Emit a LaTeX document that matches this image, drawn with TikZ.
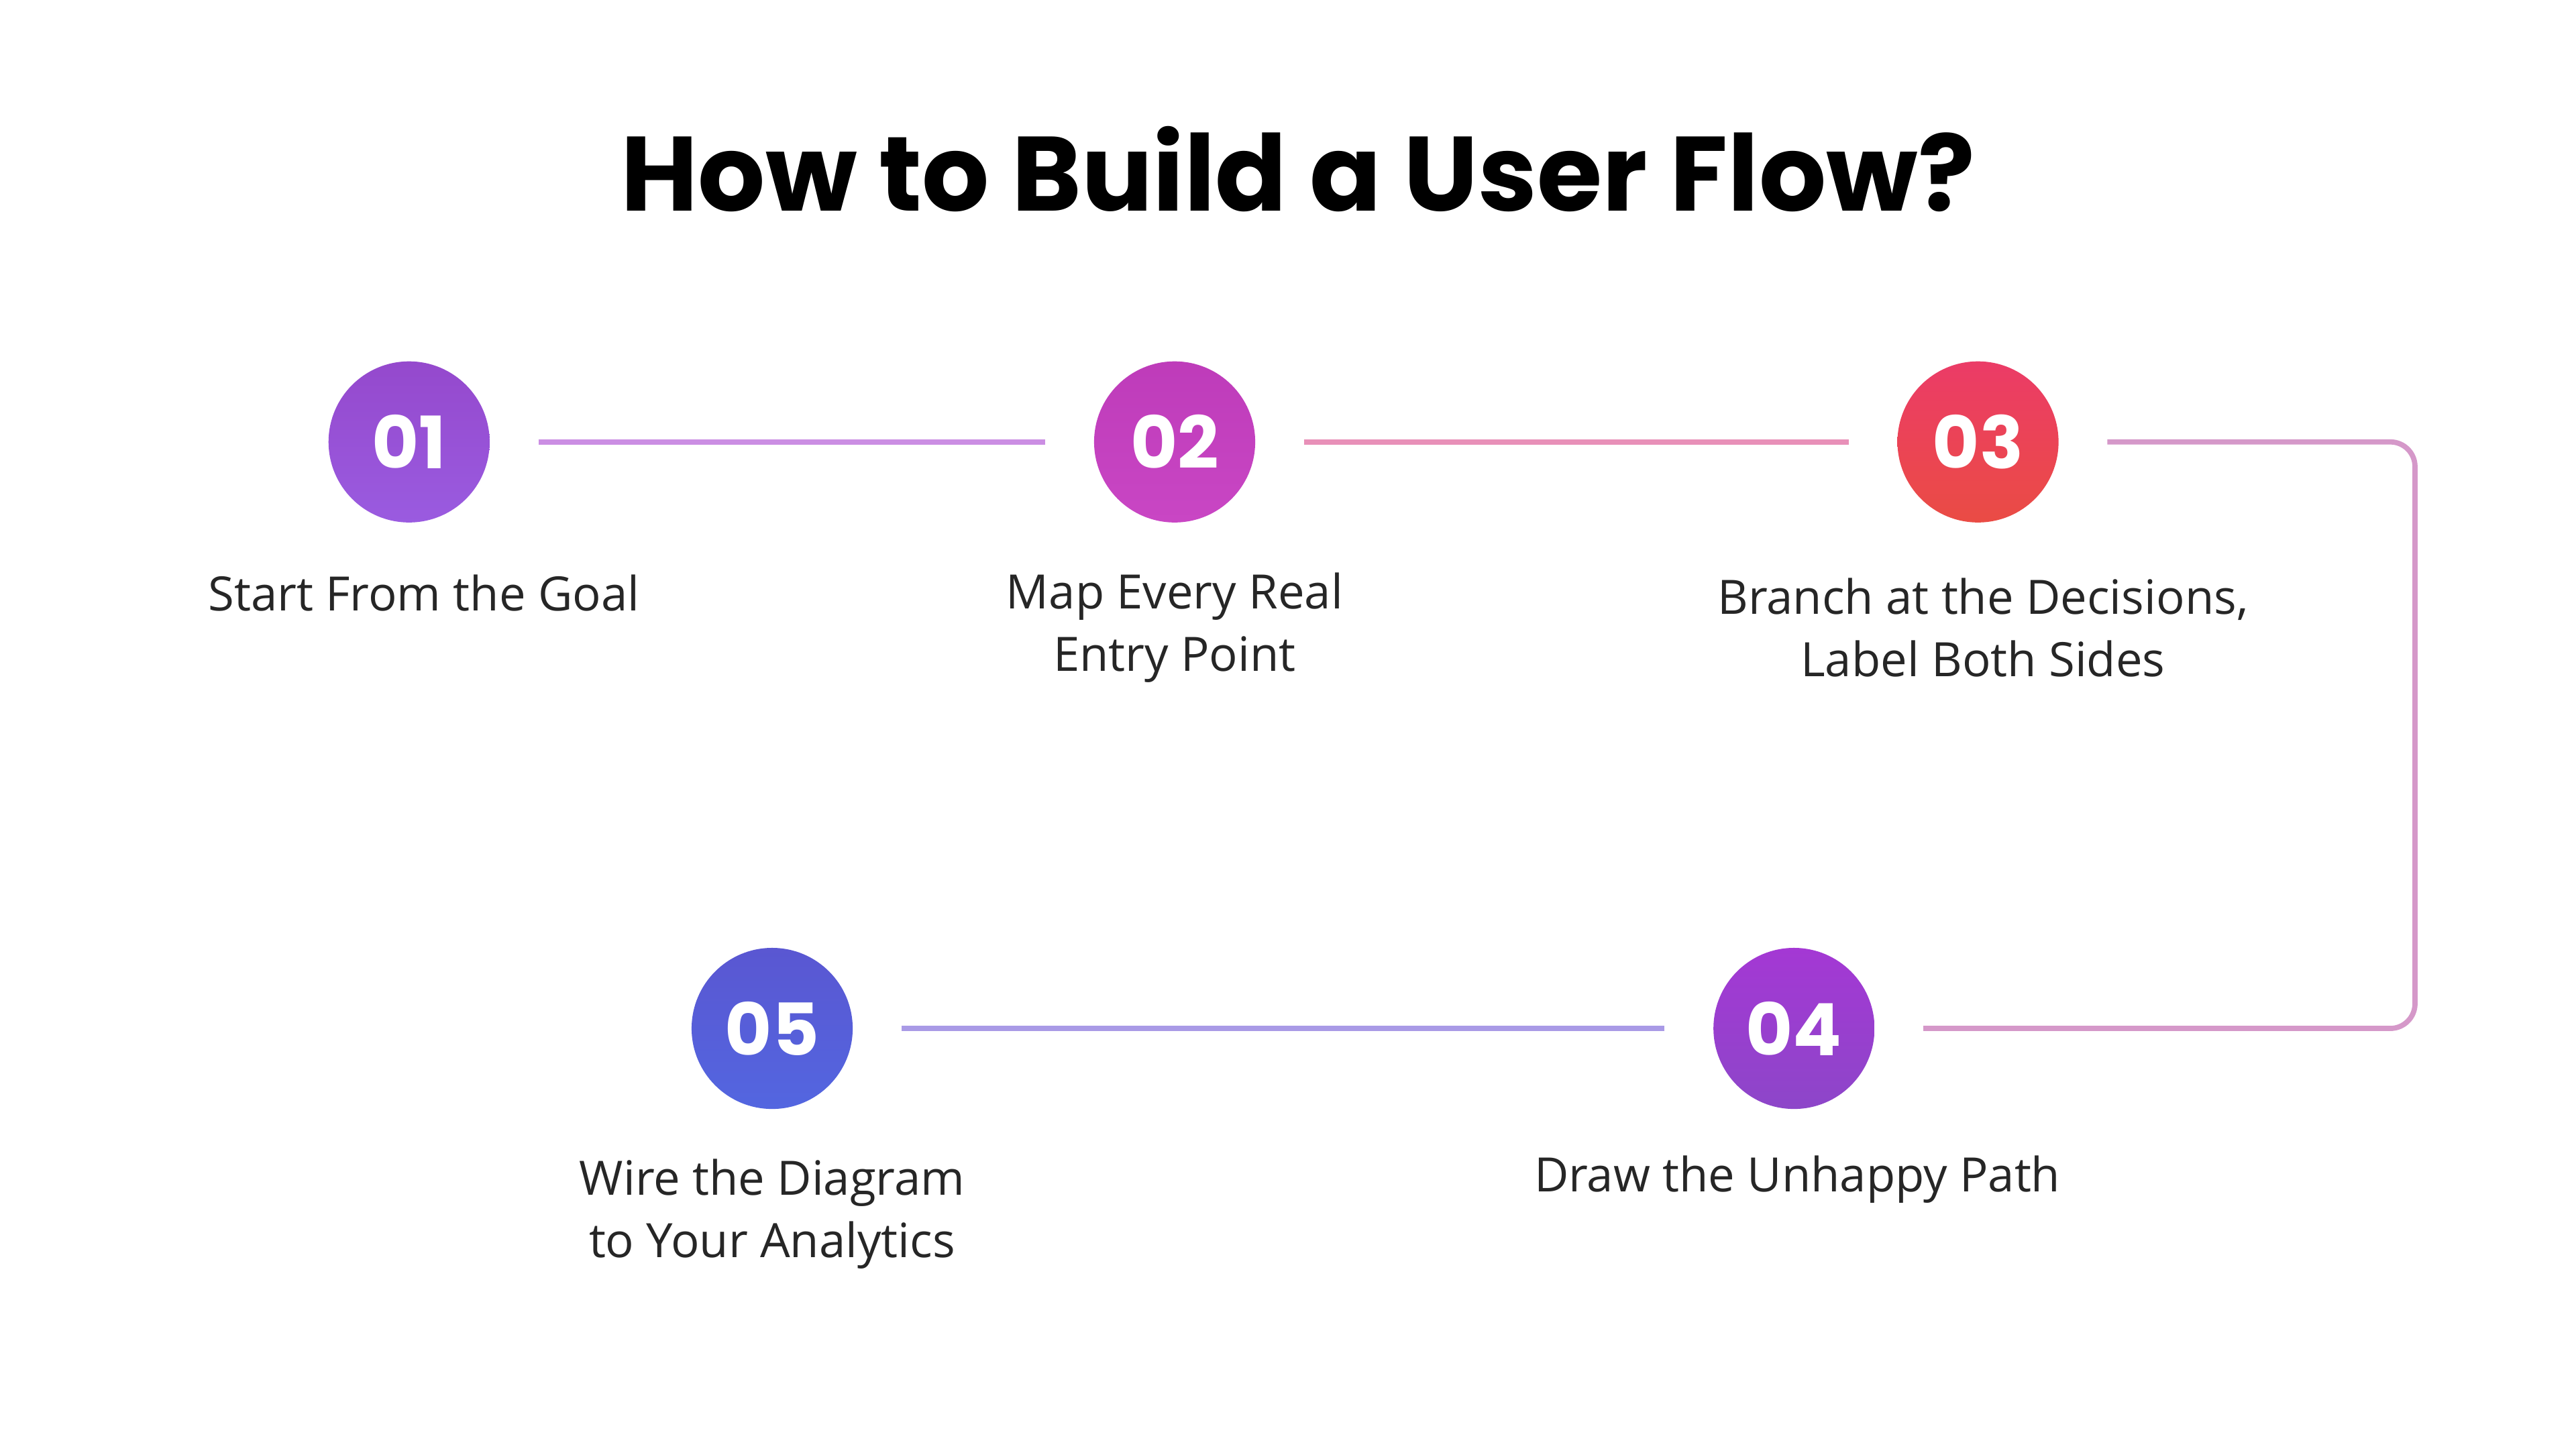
\documentclass[tikz,border=0pt]{standalone}
\usepackage{fontspec}
\setmainfont{Open Sans}
\newfontfamily\titlefont{Poppins}
\definecolor{cOne}{HTML}{9A5BE0}
\definecolor{cTwo}{HTML}{C946C4}
\definecolor{cThree}{HTML}{E8464C}
\definecolor{cFour}{HTML}{8D46C9}
\definecolor{cFive}{HTML}{5366E0}
\tikzset{
  stepnode/.style={circle, minimum size=0.98cm, inner sep=0pt, text=white,
    font=\titlefont\bfseries\fontsize{12.5}{14}\selectfont},
  lbl/.style={align=center, font=\fontsize{8.2}{10.8}\selectfont, text=black!85},
  link/.style={line width=0.9pt}
}
\begin{document}
\begin{tikzpicture}[x=0.01cm, y=-0.01cm]
    \useasboundingbox[fill=white] (0,0) rectangle (1568,882);
    \node[font=\titlefont\bfseries\fontsize{18.3}{22}\selectfont] at (790,103) (title) {How to Build a User Flow?};

    \node[stepnode, top color=cOne!80!violet, bottom color=cOne] at (249,269) (s_1) {01};
    \node[stepnode, top color=cTwo!85!violet, bottom color=cTwo] at (715,269) (s_2) {02};
    \node[stepnode, top color=cThree!85!magenta, bottom color=cThree!90!orange] at (1204,269) (s_3) {03};
    \node[stepnode, top color=cFour!80!magenta, bottom color=cFour] at (1092,626) (s_4) {04};
    \node[stepnode, top color=cFive!85!violet, bottom color=cFive] at (470,626) (s_5) {05};

    \node[lbl] at (258,361) (l_1) {Start From the Goal};
    \node[lbl] at (715,382) (l_2) {Map Every Real\\Entry Point};
    \node[lbl] at (1207,382) (l_3) {Branch at the Decisions,\\Label Both Sides};
    \node[lbl] at (1094,718) (l_4) {Draw the Unhappy Path};
    \node[lbl] at (470,739) (l_5) {Wire the Diagram\\to Your Analytics};

    \coordinate (c_1) at (1470,269);
    \coordinate (c_2) at (1470,626);
    \draw[link, draw=cOne!55!cTwo!65] ([xshift=0.29cm]s_1.east) -- ([xshift=-0.29cm]s_2.west);
    \draw[link, draw=cTwo!50!cThree!60] ([xshift=0.29cm]s_2.east) -- ([xshift=-0.29cm]s_3.west);
    \draw[link, draw=cThree!40!cOne!60, rounded corners=0.15cm]
      ([xshift=0.29cm]s_3.east) -- (c_1) -- (c_2) -- ([xshift=0.29cm]s_4.east);
    \draw[link, draw=cFour!50!cFive!60] ([xshift=-0.29cm]s_4.west) -- ([xshift=0.29cm]s_5.east);
\end{tikzpicture}
\end{document}
